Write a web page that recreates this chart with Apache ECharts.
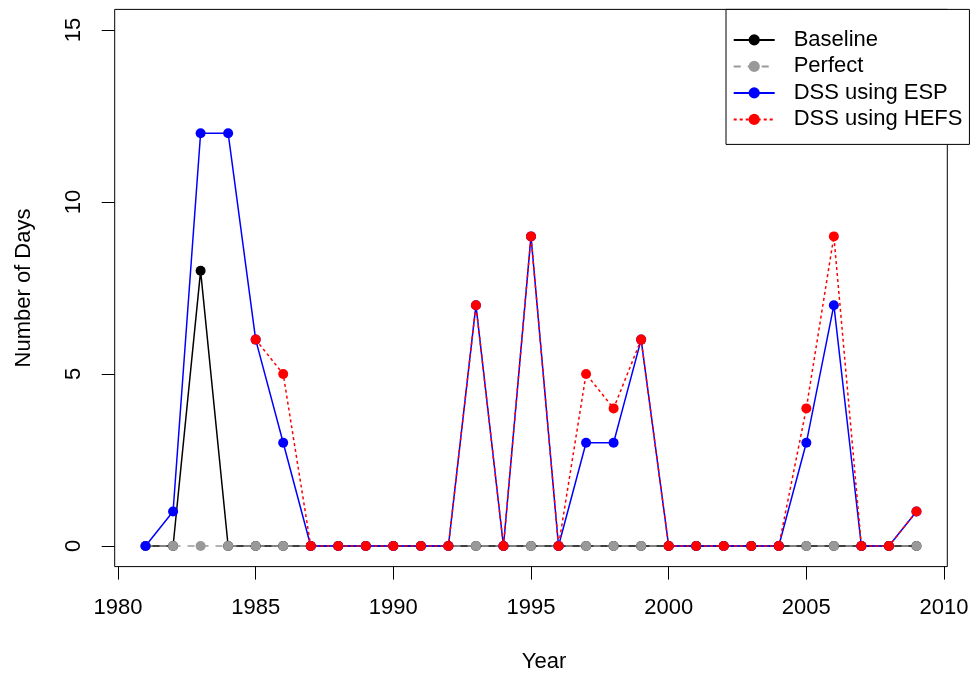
<!DOCTYPE html>
<html>
<head>
<meta charset="utf-8">
<script src="https://cdn.jsdelivr.net/npm/echarts@6/dist/echarts.min.js"></script>
<style>
html,body{margin:0;padding:0;background:#fff;}
#chart{width:975px;height:679px;}
</style>
</head>
<body>
<div id="chart"></div>
<script>
const years = [1981,1982,1983,1984,1985,1986,1987,1988,1989,1990,1991,1992,1993,1994,1995,1996,1997,1998,1999,2000,2001,2002,2003,2004,2005,2006,2007,2008,2009];
const baseline = [0,0,8,0,0,0,0,0,0,0,0,0,0,0,0,0,0,0,0,0,0,0,0,0,0,0,0,0,0];
const perfect  = [0,0,0,0,0,0,0,0,0,0,0,0,0,0,0,0,0,0,0,0,0,0,0,0,0,0,0,0,0];
const dssEsp   = [0,1,12,12,6,3,0,0,0,0,0,0,7,0,9,0,3,3,6,0,0,0,0,0,3,7,0,0,1];
const dssHefs  = [null,null,null,null,6,5,0,0,0,0,0,0,7,0,9,0,5,4,6,0,0,0,0,0,4,9,0,0,1];
const xTicks = [1980,1985,1990,1995,2000,2005,2010];
const yTicks = [0,5,10,15];

const FONT = "'Liberation Sans', Arial, sans-serif";
const pairs = arr => years.map((y,i) => [y, arr[i]]);

// R-style 4% axis extension
const xPad = (years[years.length-1] - years[0]) * 0.04;
const yPad = (yTicks[yTicks.length-1] - yTicks[0]) * 0.04;

const chart = echarts.init(document.getElementById('chart'), null, {renderer:'canvas'});
chart.setOption({
  animation:false,
  backgroundColor:'#fff',
  textStyle:{fontFamily:FONT},
  grid:{left:114.7, right:27.7, top:9.4, bottom:112.4, show:true, borderColor:'#000', borderWidth:1, backgroundColor:'transparent'},
  xAxis:{
    type:'value', min:years[0]-xPad, max:years[years.length-1]+xPad,
    axisLine:{show:false, onZero:false}, splitLine:{show:false},
    axisTick:{show:true, length:13, customValues:xTicks, lineStyle:{color:'#000', width:1}},
    axisLabel:{fontSize:22, color:'#000', margin:30, fontFamily:FONT, customValues:xTicks, formatter:v => String(v)},
    name:'Year', nameLocation:'middle', nameGap:84,
    nameTextStyle:{fontSize:22, color:'#000', fontFamily:FONT, padding:[0,0,0,26]}
  },
  yAxis:{
    type:'value', min:yTicks[0]-yPad, max:yTicks[yTicks.length-1]+yPad,
    axisLine:{show:false, onZero:false}, splitLine:{show:false},
    axisTick:{show:true, length:13, customValues:yTicks, lineStyle:{color:'#000', width:1}},
    axisLabel:{fontSize:22, color:'#000', margin:30, rotate:90, fontFamily:FONT, customValues:yTicks, formatter:v => String(v)},
    name:'Number of Days', nameLocation:'middle', nameGap:80,
    nameTextStyle:{fontSize:22, color:'#000', fontFamily:FONT}
  },
  legend:{
    orient:'vertical', left:726, top:9.4,
    padding:[19.5,7,14,6.7], itemGap:4.5, itemWidth:41, itemHeight:14,
    backgroundColor:'#fff', borderColor:'#000', borderWidth:1, borderRadius:0,
    textStyle:{fontSize:22, color:'#000', fontFamily:FONT, lineHeight:22, padding:[0,0,0,14]},
    data:['Baseline','Perfect','DSS using ESP','DSS using HEFS']
  },
  series:[
    {name:'Baseline', type:'line', data:pairs(baseline), symbol:'circle', symbolSize:10,
     itemStyle:{color:'#000'}, lineStyle:{color:'#000', width:1.5}},
    {name:'Perfect', type:'line', data:pairs(perfect), symbol:'circle', symbolSize:10,
     itemStyle:{color:'#999999'}, lineStyle:{color:'#999999', width:1.5, type:[7,7]}},
    {name:'DSS using ESP', type:'line', data:pairs(dssEsp), symbol:'circle', symbolSize:10,
     itemStyle:{color:'#0000ff'}, lineStyle:{color:'#0000ff', width:1.5}},
    {name:'DSS using HEFS', type:'line', data:pairs(dssHefs), symbol:'circle', symbolSize:10, connectNulls:false,
     itemStyle:{color:'#ff0000'}, lineStyle:{color:'#ff0000', width:1.5, type:[3,3]}}
  ]
});
</script>
</body>
</html>
